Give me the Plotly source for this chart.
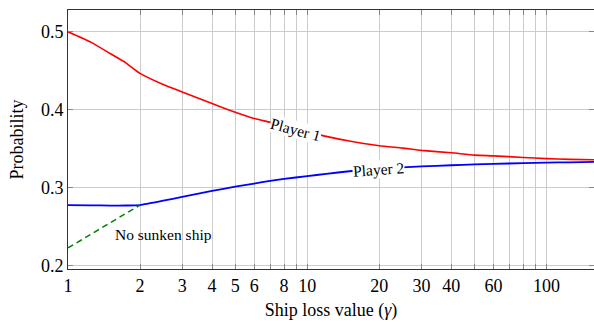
import plotly.graph_objects as go
import math

x_vals = [1, 1.25, 1.5, 1.75, 2, 2.5, 3, 4, 5, 6, 7, 8, 10, 12, 15, 20, 25, 30, 40, 50, 60, 80, 100, 125, 158]
player1 = [0.500, 0.4865, 0.4722, 0.4600, 0.4467, 0.4325, 0.423, 0.408, 0.397, 0.389, 0.384, 0.379, 0.372,
           0.366, 0.360, 0.354, 0.351, 0.348, 0.345, 0.342, 0.341, 0.339, 0.3375, 0.3365, 0.336]
player2 = [0.278, 0.2776, 0.2773, 0.2774, 0.278, 0.2835, 0.2885, 0.296, 0.3015, 0.3055, 0.309, 0.3115, 0.315,
           0.318, 0.3213, 0.3245, 0.3263, 0.3275, 0.329, 0.330, 0.3307, 0.3317, 0.3323, 0.3328, 0.3333]
no_sunk_x = [1, 2]
no_sunk_y = [0.223, 0.278]

x_ticks = [1, 2, 3, 4, 5, 6, 8, 10, 20, 30, 40, 60, 100]
x_minor = [7, 9, 50, 70, 80, 90]
y_ticks = [0.2, 0.3, 0.4, 0.5]

FONT = "Liberation Serif"
fig = go.Figure()
fig.add_trace(go.Scatter(x=x_vals, y=player1, mode="lines", line=dict(color="#ff0000", width=1.6, shape="spline", smoothing=0.5), showlegend=False))
fig.add_trace(go.Scatter(x=x_vals, y=player2, mode="lines", line=dict(color="#0000ff", width=1.8, shape="spline", smoothing=0.5), showlegend=False))
fig.add_trace(go.Scatter(x=no_sunk_x, y=no_sunk_y, mode="lines", line=dict(color="#008000", width=1.5, dash="6px,4px"), showlegend=False))

fig.add_annotation(x=math.log10(8.9), y=0.3744, text="Player 1", showarrow=False, textangle=15,
                   bgcolor="white", font=dict(family=FONT, size=15.5, color="black"), borderpad=0)
fig.add_annotation(x=math.log10(19.8), y=0.3235, text="Player 2", showarrow=False, textangle=-4,
                   bgcolor="white", font=dict(family=FONT, size=15.5, color="black"), borderpad=0)
fig.add_annotation(x=math.log10(2.50), y=0.2401, text="No sunken ship", showarrow=False,
                   font=dict(family=FONT, size=15.5, color="black"))

axis_common = dict(showline=True, linecolor="#333333", linewidth=1, mirror="ticks",
                   ticks="inside", ticklen=5, tickcolor="#888888", automargin=False,
                   gridcolor="#cccccc", gridwidth=1, zeroline=False,
                   tickfont=dict(family=FONT, size=18, color="black"))
fig.update_xaxes(type="log", range=[0, math.log10(158)], tickvals=x_ticks,
                 ticktext=[str(v) for v in x_ticks],
                 minor=dict(tickvals=x_minor, showgrid=True, gridcolor="#cccccc", ticks="inside", ticklen=5, tickcolor="#888888"),
                 title=dict(text="Ship loss value (<i>γ</i>)", font=dict(family=FONT, size=18, color="black"), standoff=8),
                 **axis_common)
fig.update_yaxes(range=[0.196, 0.528], tickvals=y_ticks, ticktext=["0.2", "0.3", "0.4", "0.5"],
                 title=dict(text="Probability", font=dict(family=FONT, size=18, color="black"), standoff=12),
                 **axis_common)
fig.update_layout(width=594, height=322, margin=dict(l=68, r=0, t=10, b=53),
                  paper_bgcolor="white", plot_bgcolor="white")
fig.write_html("out.html", config={"displayModeBar": False},
               post_script="document.body.style.margin='0px';")
